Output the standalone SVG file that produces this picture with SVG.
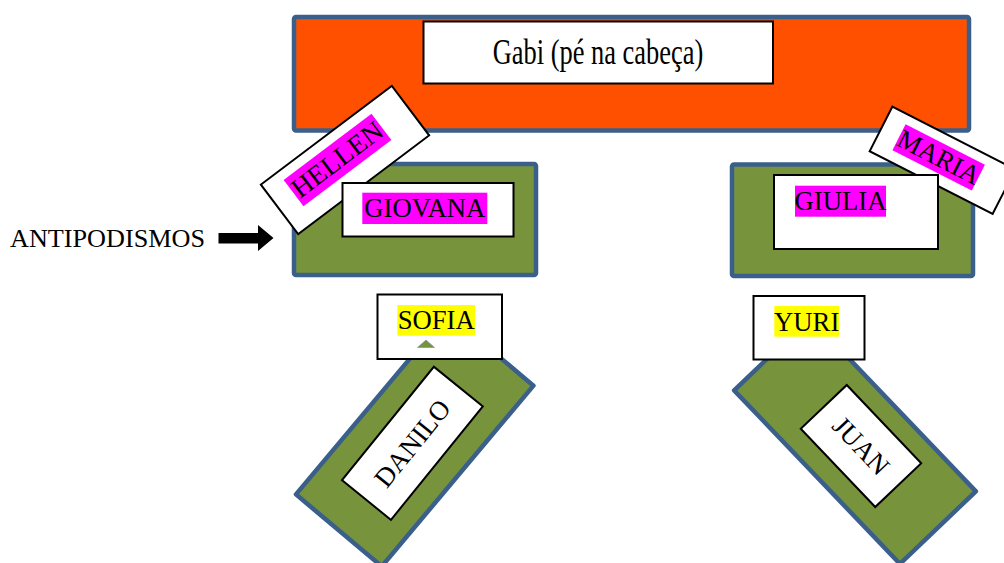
<svg xmlns="http://www.w3.org/2000/svg" width="1004" height="563" viewBox="0 0 1004 563">
<style>
.blk{stroke:#3A5F8B;stroke-width:4.5;stroke-linejoin:round}
.org{fill:#FF5000}
.grn{fill:#77933C}
.box{fill:#FFFFFF;stroke:#000000;stroke-width:2}
.mag{fill:#FF00FF}
.yel{fill:#FFFF00}
.t{font-family:"Liberation Serif","Times New Roman",serif;fill:#000000;font-size:26.7px;text-anchor:middle}
</style>
<rect width="1004" height="563" fill="#FFFFFF"/>
<g id="gabi">
<rect class="blk org" x="294" y="17" width="675" height="113.5" rx="2"/>
<rect class="box" x="423.5" y="21.5" width="349.5" height="62"/>
<text class="t" x="492.7" y="64" style="font-size:35px;text-anchor:start" textLength="210.6" lengthAdjust="spacingAndGlyphs">Gabi (pé na cabeça)</text>
</g>
<g id="giovana-base">
<rect class="blk grn" x="294" y="164" width="242" height="111" rx="2"/>
</g>
<g id="giulia-base">
<rect class="blk grn" x="732" y="164.5" width="241" height="111.5" rx="2"/>
</g>
<g id="hellen" transform="translate(345,160) rotate(-37)">
<rect class="box" x="-82" y="-31" width="164" height="62"/>
<rect class="mag" x="-61" y="-21" width="110" height="33"/>
<text class="t" x="-6" y="4" style="font-size:27.5px">HELLEN</text>
</g>
<g id="giovana">
<rect class="box" x="342.5" y="183" width="171" height="53.5"/>
<rect class="mag" x="362.3" y="192.7" width="125" height="31.3"/>
<text class="t" x="424.8" y="216.7">GIOVANA</text>
</g>
<g id="maria" transform="translate(942.5,160.3) rotate(27)">
<rect class="box" x="-69" y="-25" width="138" height="50"/>
<rect class="mag" x="-49.2" y="-15.3" width="89" height="29"/>
<text class="t" x="-4.7" y="7.7">MARIA</text>
</g>
<g id="giulia">
<rect class="box" x="774" y="175" width="164" height="74"/>
<rect class="mag" x="795" y="185.7" width="91" height="31"/>
<text class="t" x="840.5" y="210">GIULIA</text>
</g>
<g id="danilo" transform="translate(414.7,440) rotate(-50)">
<rect class="blk grn" x="-118" y="-56" width="236" height="112"/>
</g>
<g id="danilo-label" transform="translate(412.4,443.3) rotate(-51)">
<rect class="box" x="-73" y="-31.5" width="146" height="63"/>
<text class="t" x="0" y="9" style="font-size:27px">DANILO</text>
</g>
<g id="juan" transform="translate(855,440.85) rotate(46.3)">
<rect class="blk grn" x="-120" y="-52.5" width="240" height="105"/>
</g>
<g id="juan-label" transform="translate(861,446) rotate(46.4)">
<rect class="box" x="-54" y="-31.75" width="108" height="63.5"/>
<text class="t" x="0" y="9" style="font-size:27px">JUAN</text>
</g>
<g id="sofia">
<rect class="box" x="377.5" y="294.5" width="124.5" height="64.5"/>
<rect class="yel" x="397.3" y="305" width="77.7" height="30.7"/>
<text class="t" x="436.2" y="329">SOFIA</text>
<polygon points="417.5,347.5 426,340 434.5,347.5" fill="#77933C" stroke="#6A8FB0" stroke-width="0.6"/>
</g>
<g id="yuri">
<rect class="box" x="753.5" y="296" width="111" height="63.5"/>
<rect class="yel" x="774.3" y="306" width="64.7" height="30.7"/>
<text class="t" x="806.7" y="330.5">YURI</text>
</g>
<g id="antipodismos">
<text class="t" x="10" y="246.7" style="font-size:25.5px;text-anchor:start" textLength="195" lengthAdjust="spacingAndGlyphs">ANTIPODISMOS</text>
</g>
<g id="connectors">
<polygon points="218.5,233 258,233 258,225 273.5,238 258,251 258,243.5 218.5,243.5" fill="#000000"/>
</g>
</svg>
